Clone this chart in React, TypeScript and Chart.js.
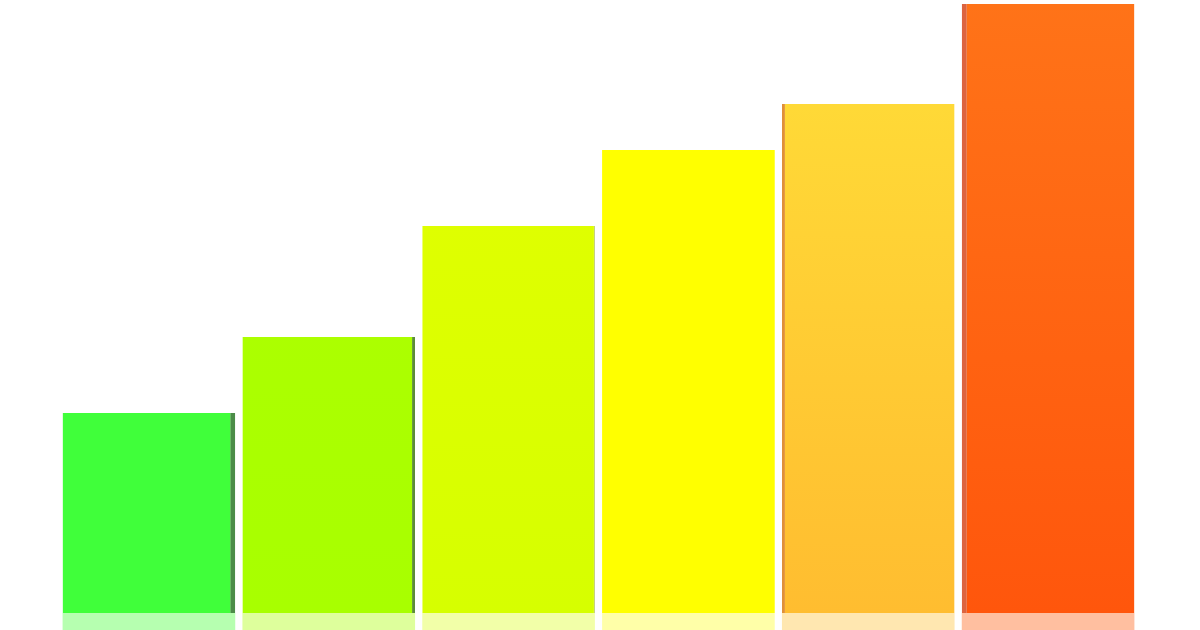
import React, { useEffect, useRef } from 'react'
import Chart, { ChartConfiguration } from 'chart.js/auto'

const labels = ['1', '2', '3', '4', '5', '6']
const values = [200, 276, 387, 463, 509, 609]
const topColors = ['#40ff3a', '#b0ff00', '#e4ff00', '#ffff00', '#ffdf38', '#ff7318']
const bottomColors = ['#40ff3a', '#a8ff00', '#d6ff00', '#ffff00', '#ffbd30', '#ff560c']
const sideColors = ['#4c8c48', '#5c8c3a', '#b8c860', '#ffff60', '#e09038', '#dc6440']
const reflectionColors = ['#b6ffb0', '#deff9c', '#f2ffa8', '#ffffa8', '#ffe7b0', '#ffbfa0']
// side faces: green ones on the right, orange ones on the left
const sideRight = [5, 3, 1, 0, 0, 0]
const sideLeft = [0, 0, 0, 0, 3, 5]

export default function App() {
    const ctx = useRef<HTMLCanvasElement | null>(null)

    useEffect(() => {
        if (!ctx.current) {
            return
        }

        document.body.style.margin = '0'

        const cfg: ChartConfiguration = {
            type: 'bar',
            data: {
                labels: labels,
                datasets: [
                    {
                        label: 'bars',
                        data: values,
                        backgroundColor: (c: any) => {
                            const area = c.chart.chartArea
                            const i = c.dataIndex
                            if (!area || i === undefined) return topColors[i ?? 0]
                            const g = c.chart.ctx.createLinearGradient(0, area.top, 0, c.chart.scales.y.getPixelForValue(0))
                            g.addColorStop(0, topColors[i])
                            g.addColorStop(1, bottomColors[i])
                            return g
                        },
                        borderColor: sideColors,
                        borderWidth: (c: any) => ({
                            top: 0,
                            bottom: 0,
                            left: sideLeft[c.dataIndex] ?? 0,
                            right: sideRight[c.dataIndex] ?? 0,
                        }),
                        borderSkipped: false,
                        barPercentage: 0.96,
                        categoryPercentage: 1,
                    },
                    {
                        label: 'reflection',
                        data: values.map((v) => -v),
                        backgroundColor: reflectionColors,
                        barPercentage: 0.96,
                        categoryPercentage: 1,
                    },
                ],
            },
            options: {
                animation: false,
                responsive: false,
                maintainAspectRatio: false,
                devicePixelRatio: 1,
                layout: {
                    padding: { left: 59, right: 62, top: 0, bottom: 0 },
                },
                plugins: {
                    legend: { display: false },
                    tooltip: { enabled: false },
                    title: { display: false },
                },
                scales: {
                    x: { display: false, stacked: true },
                    y: { display: false, stacked: true, min: -17, max: 613 },
                },
            },
        }

        const myChart = new Chart(ctx.current, cfg)
        return () => myChart.destroy()
    }, [])

    return (
        <div style={{ width: 1200, height: 630, background: '#ffffff' }}>
            <canvas ref={ctx} width={1200} height={630}></canvas>
        </div>
    )
}
